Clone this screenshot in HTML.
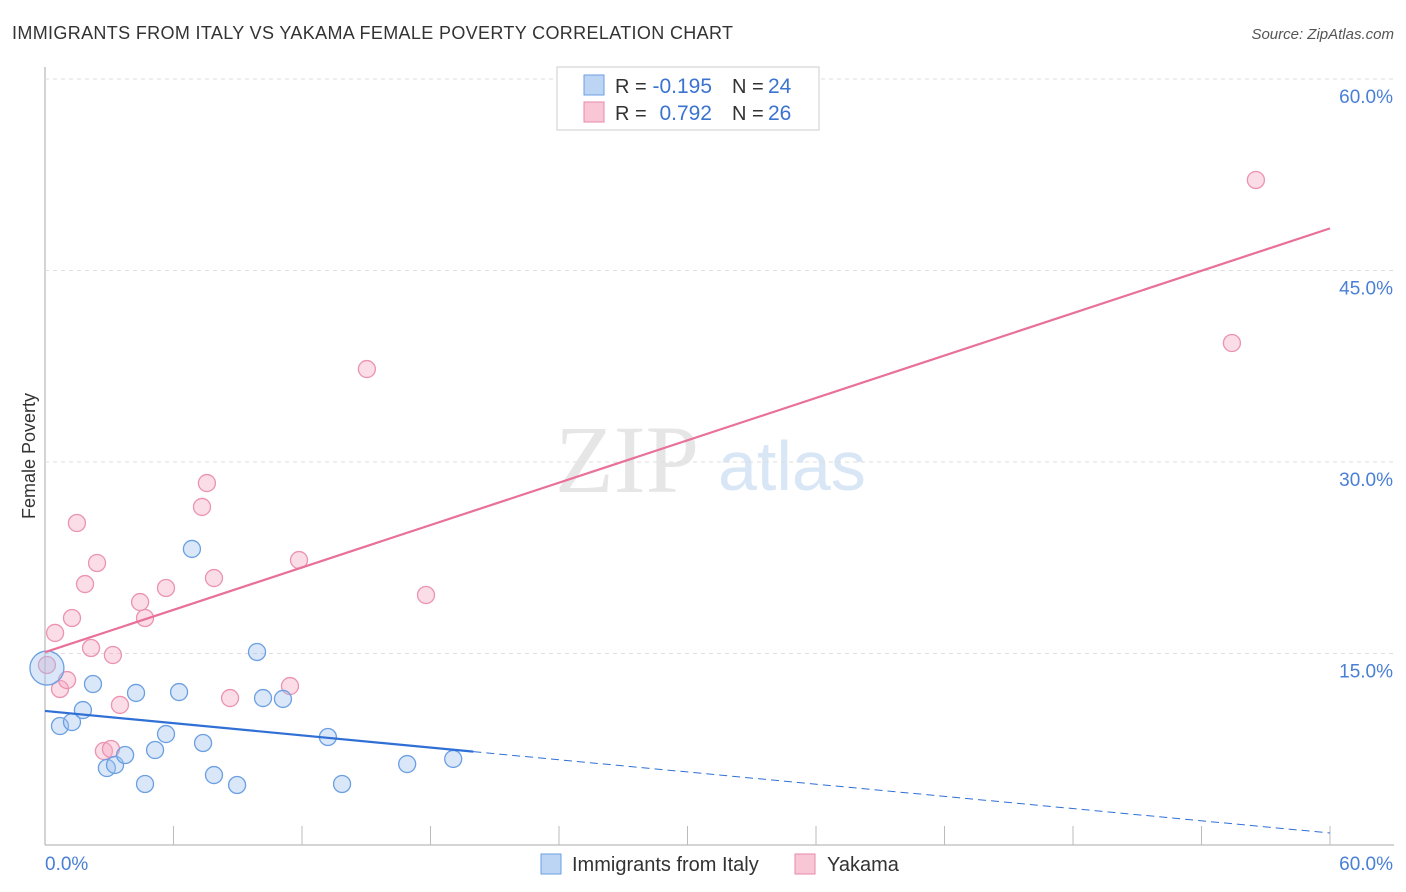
<!DOCTYPE html>
<html><head><meta charset="utf-8"><style>
body{margin:0;background:#fff;font-family:"Liberation Sans",sans-serif}
svg{display:block}
</style></head><body>
<svg id="chart" width="1406" height="892">
<text x="12" y="39" font-size="18" fill="#333" textLength="721">IMMIGRANTS FROM ITALY VS YAKAMA FEMALE POVERTY CORRELATION CHART</text>
<text x="1394" y="39" font-size="15" fill="#555" font-style="italic" text-anchor="end">Source: ZipAtlas.com</text>
<text x="35" y="456" font-size="18" fill="#333" text-anchor="middle" transform="rotate(-90 35 456)">Female Poverty</text>
<text x="555" y="492" font-size="96" fill="#e6e6e6" font-family="Liberation Serif">ZIP</text>
<text x="718" y="490" font-size="70" fill="#d8e6f6">atlas</text>
<g id="grid"></g><g id="marks"></g>
<g>
<rect x="557" y="67" width="262" height="63" fill="#fff" stroke="#ccc"/>
<rect x="584" y="75" width="20" height="20" fill="#bcd5f5" stroke="#6a9fe0"/>
<rect x="584" y="102" width="20" height="20" fill="#f9c6d6" stroke="#e88aa8"/>
<text x="615" y="93" font-size="20" fill="#333">R =</text>
<text x="712" y="93" font-size="21" fill="#3b73d1" text-anchor="end">-0.195</text>
<text x="732" y="93" font-size="20" fill="#333">N =</text>
<text x="768" y="93" font-size="21" fill="#3b73d1">24</text>
<text x="615" y="120" font-size="20" fill="#333">R =</text>
<text x="712" y="120" font-size="21" fill="#3b73d1" text-anchor="end">0.792</text>
<text x="732" y="120" font-size="20" fill="#333">N =</text>
<text x="768" y="120" font-size="21" fill="#3b73d1">26</text>
</g>
<g>
<rect x="541" y="854" width="20" height="20" fill="#bcd5f5" stroke="#6a9fe0"/>
<text x="572" y="871" font-size="20" fill="#333">Immigrants from Italy</text>
<rect x="795" y="854" width="20" height="20" fill="#f9c6d6" stroke="#e88aa8"/>
<text x="827" y="871" font-size="20" fill="#333">Yakama</text>
</g>
</svg>
<script>
const yTicks=[15,30,45,60];
const xTickLabels=["0.0%","60.0%"];
const blueX=[0.09,0.70,1.26,1.77,2.24,2.89,3.27,3.74,4.25,4.67,5.14,5.65,6.26,6.86,7.38,7.89,8.97,9.90,10.18,11.11,13.21,13.87,16.91,19.06];
const blueY=[13.86,9.32,9.63,10.57,12.61,6.03,6.27,7.05,11.91,4.78,7.44,8.69,11.98,23.19,7.99,5.48,4.70,15.12,11.51,11.44,8.46,4.78,6.34,6.74];
const pinkX=[0.09,0.47,0.70,1.03,1.26,1.49,1.87,2.15,2.43,2.75,3.08,3.17,3.50,4.44,4.67,5.65,7.33,7.56,7.89,8.64,11.44,11.86,15.03,17.79,55.42,56.54];
const pinkY=[14.10,16.61,12.22,12.92,17.78,25.22,20.44,15.43,22.09,7.36,7.52,14.88,10.97,19.03,17.78,20.13,26.48,28.35,20.91,11.51,12.45,22.32,37.28,19.58,39.32,52.09];
const blueTrend=[10.5,0.94], pinkTrend=[15.1,48.3], blueSolidEnd=20;
const X=v=>45+v/60*1285, Y=v=>845-v/60*766;
const NS="http://www.w3.org/2000/svg";
function mk(t,a,p){const e=document.createElementNS(NS,t);for(const k in a)e.setAttribute(k,a[k]);p.appendChild(e);return e;}
const g=document.getElementById('grid'), m=document.getElementById('marks');
let ax=mk('line',{x1:45,y1:67,x2:45,y2:845,stroke:'#aaa'},g);


let bx=mk('line',{x1:45,y1:845,x2:1394,y2:845,stroke:'#aaa'},g);


for(let i=1;i<=10;i++){let t=mk('line',{x1:X(i*6),x2:X(i*6),y1:826,y2:845,stroke:'#bbb'},g);

}
yTicks.forEach(v=>{let l=mk('line',{x1:45,x2:1394,y1:Y(v),y2:Y(v),stroke:'#ddd','stroke-dasharray':'4,4'},g);


let t=mk('text',{x:1393,y:Y(v)+24,'font-size':19,fill:'#4a7fd6','text-anchor':'end'},g);t.textContent=v.toFixed(1)+'%';

});
xTickLabels.forEach((s,i)=>{let t=mk('text',{x:i?1393:45,y:870,'font-size':19,fill:'#4a7fd6','text-anchor':i?'end':'start'},g);t.textContent=s;

});
pinkX.forEach((x,i)=>{let c=mk('circle',{cx:X(x),cy:Y(pinkY[i]),r:8.5,fill:'rgba(245,170,195,0.4)',stroke:'#eb93b0','stroke-width':1.3},m);

});
blueX.forEach((x,i)=>{let c=mk('circle',{cx:X(x),cy:Y(blueY[i]),r:i==0?17:8.5,fill:'rgba(160,195,240,0.4)',stroke:'#6b9fe2','stroke-width':1.3},m);

});
const bAt=x=>blueTrend[0]+(blueTrend[1]-blueTrend[0])*x/60;
let l1=mk('line',{x1:X(0),y1:Y(bAt(0)),x2:X(blueSolidEnd),y2:Y(bAt(blueSolidEnd)),stroke:'#2f6fd6','stroke-width':2.2},m);


let l2=mk('line',{x1:X(blueSolidEnd),y1:Y(bAt(blueSolidEnd)),x2:X(60),y2:Y(bAt(60)),stroke:'#2f6fd6','stroke-width':1,'stroke-dasharray':'8,5'},m);


let l3=mk('line',{x1:X(0),y1:Y(pinkTrend[0]),x2:X(60),y2:Y(pinkTrend[1]),stroke:'#e8709a','stroke-width':2.2},m);


</script>
</body></html>
